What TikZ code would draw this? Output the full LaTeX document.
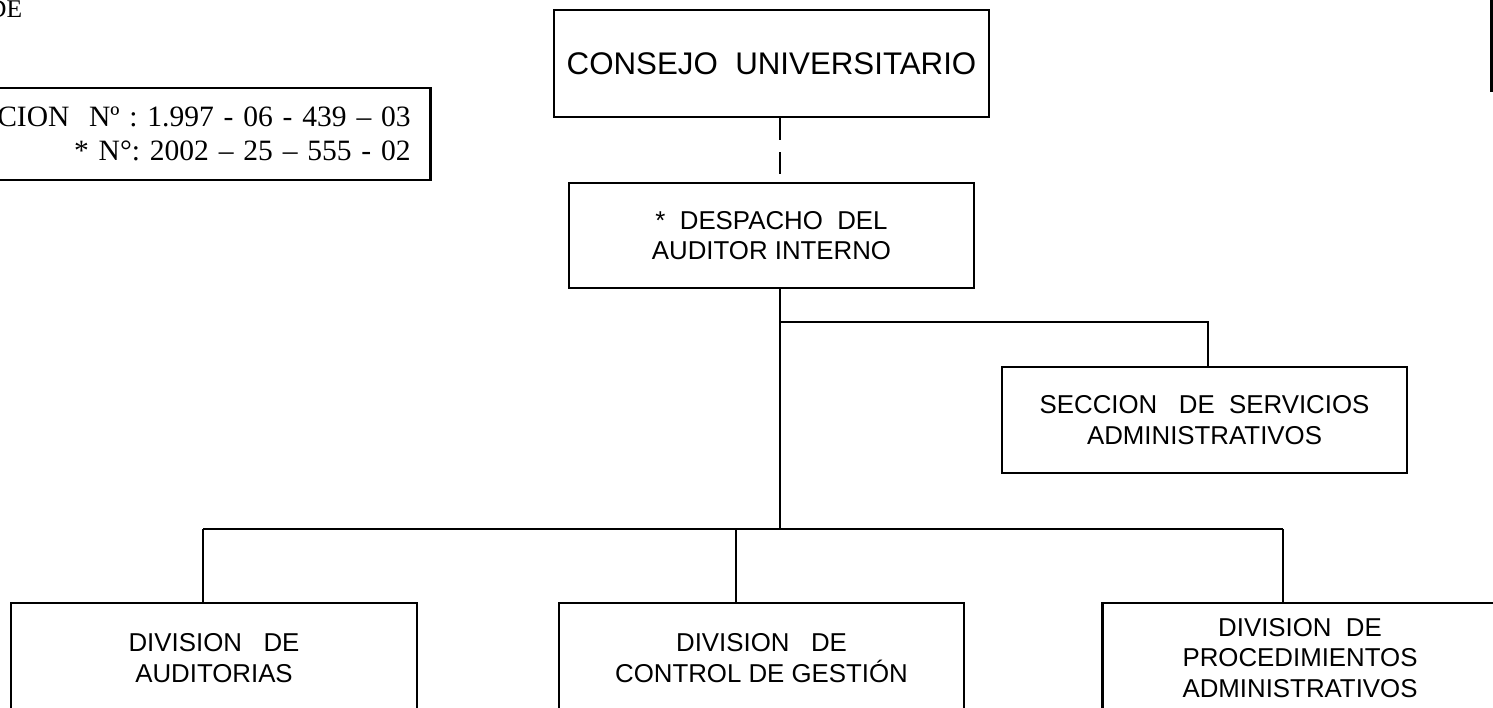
\documentclass[tikz,border=0pt]{standalone}
\usepackage{fontspec}
\setmainfont{Liberation Sans}
\newfontfamily\serifres{Liberation Serif}
\frenchspacing

\begin{document}
\begin{tikzpicture}[line width=1.5pt,
    caja/.style={draw, align=center, inner sep=0pt, minimum width=8.1cm,
                 minimum height=2.12cm, font=\fontsize{14.7}{17.2}\selectfont}]
    \useasboundingbox (0,0) rectangle (29.86,-14.14);
    \clip (0,0) rectangle (29.86,-14.14);

    \node[caja, minimum width=8.7cm, minimum height=2.14cm,
          font=\fontsize{17.8}{20}\selectfont] (cu) at (15.43,-1.27) {CONSEJO\ \ UNIVERSITARIO};
    \node[caja, minimum height=2.10cm] (dai) at (15.43,-4.71) {{*}\ \ DESPACHO\ \ DEL \\ AUDITOR INTERNO};
    \node[caja] (ssa) at (24.09,-8.40) {SECCION\ \ \ DE\ \ SERVICIOS \\ ADMINISTRATIVOS};

    \node[caja, minimum width=8.12cm, minimum height=2.2cm] (da)  at (4.28,-13.16)  {DIVISION\ \ \ DE \\ AUDITORIAS};
    \node[caja, minimum height=2.2cm]                       (dcg) at (15.23,-13.16) {DIVISION\ \ \ DE \\ CONTROL DE GESTIÓN};
    \node[caja, minimum width=7.9cm, minimum height=2.2cm]  (dpa) at (26.00,-13.16) {DIVISION\ \ DE \\ PROCEDIMIENTOS \\ ADMINISTRATIVOS};

    % resolucion (cortada por el borde)
    \node[draw, anchor=east, text width=12cm, align=right, inner xsep=0.4cm,
          minimum height=1.84cm, font=\serifres\fontsize{16.8}{19.5}\selectfont] (res) at (8.64,-2.68)
          {CION\ \ Nº : 1.997 - 06 - 439 – 03 \\ {*} N°: 2002 – 25 – 555 - 02};
    \node[anchor=base east, inner sep=0pt, font=\serifres\fontsize{14.5}{16}\selectfont] (tit) at (0.47,-0.35) {DE};
    \node[draw, anchor=south west, minimum width=2cm, minimum height=3cm] (esq) at (29.80,-1.84) {};

    % lineas
    \coordinate (t)  at (15.60,-10.58);
    \coordinate (r)  at (24.16,-6.44);
    \coordinate (b1) at (4.06,-10.58);
    \coordinate (b2) at (14.72,-10.58);
    \coordinate (b3) at (25.66,-10.58);

    \draw[dash pattern=on 0.44cm off 0.24cm] (cu.south -| t) -- (dai.north -| t);
    \draw (dai.south -| t) -- (t);
    \draw (r -| t) -- (r) -- (r |- ssa.north);
    \draw (b1) -- (b3);
    \draw (b1) -- (b1 |- da.north);
    \draw (b2) -- (b2 |- dcg.north);
    \draw (b3) -- (b3 |- dpa.north);
\end{tikzpicture}
\end{document}
